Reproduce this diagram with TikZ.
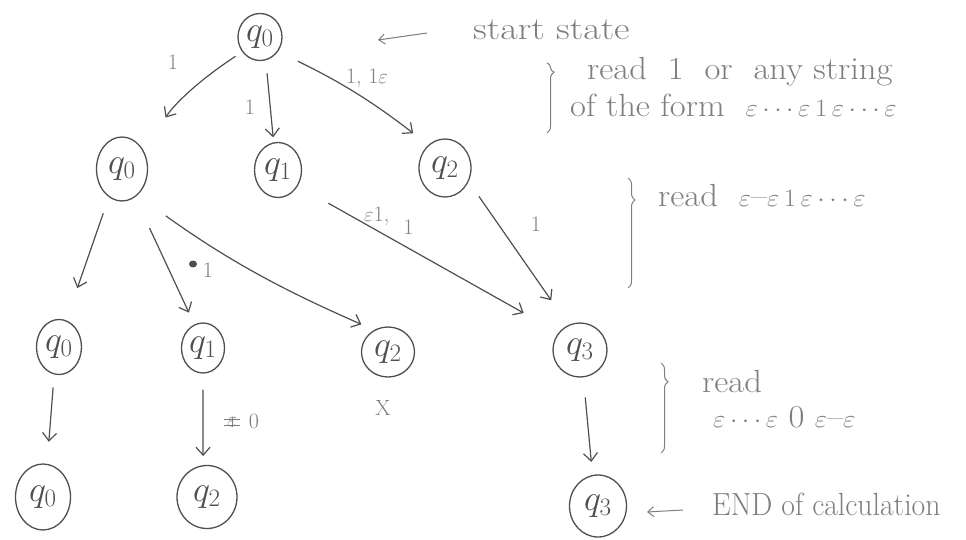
\documentclass[tikz,border=0pt]{standalone}
\usetikzlibrary{arrows.meta,shapes.geometric,decorations.pathreplacing}
\definecolor{ink}{HTML}{4F4F4F}
\definecolor{pencil}{HTML}{7E7E7E}
\newcommand{\qst}[1]{\scalebox{1.45}{$q_{#1}$}}
\tikzset{
  st/.style={draw=ink, line width=1.3pt, ellipse, inner sep=0pt, text=ink,
    font=\fontsize{24}{28}\selectfont},
  arr/.style={draw=ink, line width=1.2pt, -{Straight Barb[length=8pt,width=14pt]}},
  annarr/.style={draw=pencil, line width=1pt, -{Straight Barb[length=6pt,width=10pt]}},
  lbl/.style={text=pencil, font=\fontsize{22}{26}\selectfont, inner sep=0pt},
  note/.style={text=pencil, font=\fontsize{32}{36}\selectfont, inner sep=0pt, anchor=base west, xscale=1.08},
  brc/.style={draw=pencil, line width=1pt, decorate},
}
\begin{document}
\begin{tikzpicture}[x=1pt,y=-1pt]
\useasboundingbox (0,0) rectangle (966,540);
% states
\node[st, minimum width=44pt, minimum height=47pt] (A) at (260,37) {\qst{0}};
\node[st, minimum width=51pt, minimum height=64pt] (B) at (122,169) {\qst{0}};
\node[st, minimum width=47pt, minimum height=55pt] (C) at (278,170) {\qst{1}};
\node[st, minimum width=52pt, minimum height=58pt] (D) at (445,168) {\qst{2}};
\node[st, minimum width=45pt, minimum height=55pt] (E) at (59,347) {\qst{0}};
\node[st, minimum width=43pt, minimum height=50pt] (F) at (203,348) {\qst{1}};
\node[st, minimum width=53pt, minimum height=50pt] (G) at (388,352) {\qst{2}};
\node[st, minimum width=54pt, minimum height=54pt] (H) at (580,350) {\qst{3}};
\node[st, minimum width=55pt, minimum height=66pt] (I) at (43,497) {\qst{0}};
\node[st, minimum width=60pt, minimum height=63pt] (J) at (207,497) {\qst{2}};
\node[st, minimum width=57pt, minimum height=62pt] (K) at (598,506) {\qst{3}};
% transitions
\draw[arr, shorten <=8pt, shorten >=40pt] (A.220) to[bend right=12] (B.39);
\draw[arr, shorten <=13pt, shorten >=5pt] (A.284) -- (C.99);
\draw[arr, shorten <=22pt, shorten >=19pt] (A.321) to[bend left=6] (D.126);
\draw[arr, shorten <=17pt, shorten >=34pt] (B.245) -- (E.75);
\draw[arr, shorten <=34pt, shorten >=13pt] (B.295) -- (F.110);
\draw[arr, shorten <=35pt, shorten >=14pt] (B.300) to[bend right=6] (G.122);
\draw[arr, shorten <=35pt, shorten >=40pt] (C.321) -- (H.141);
\draw[arr, shorten <=18pt, shorten >=30pt] (D.330) -- (H.115);
\draw[arr, shorten <=13pt, shorten >=22pt] (E.260) -- (I.83);
\draw[arr, shorten <=16pt, shorten >=9pt] (F.270) -- (J.97);
\draw[arr, shorten <=20pt, shorten >=13pt] (H.277) -- (K.100);
% transition labels
\node[lbl] (l1) at (173,62) {1};
\node[lbl] (l2) at (250,107) {1};
\node[lbl] (l3) at (367,78) {1, 1$\varepsilon$};
\fill[ink] (193,264) ellipse (4pt and 3.5pt);
\node[lbl] (l4) at (208,270) {1};
\node[lbl, anchor=base west] (l5) at (364,222) {$\varepsilon$1,\hspace{14pt}\raisebox{-13pt}{1}};
\node[lbl] (l6) at (536,224) {1};
\node[lbl] (l7) at (232,422) {$\varepsilon$};
\draw[pencil, line width=0.9pt] ([xshift=-3pt,yshift=-3pt]l7.west) -- ([xshift=3pt,yshift=-3pt]l7.east);
\draw[pencil, line width=0.9pt] ([xshift=-3pt,yshift=3pt]l7.west) -- ([xshift=3pt,yshift=3pt]l7.east);
\draw[pencil, line width=0.9pt] (l7.north) -- (l7.south);
\node[lbl] (l8) at (254,421) {0};
\node[lbl] (x) at (383,408) {X};
% annotations
\node[note, xscale=1.1] (n1) at (473,40) {start state};
\coordinate (ssT) at (427,33);
\coordinate (ssH) at (378,40);
\draw[annarr] (ssT) -- (ssH);
\draw[brc, decoration={brace, amplitude=7pt, aspect=0.13}] (547,63) -- (547,133);
\node[note] (n2) at (587,80) {read \ 1 \ or \ any string};
\node[note] (n3) at (570,117) {of the form \ $\varepsilon\cdots\varepsilon\,1\,\varepsilon\cdots\varepsilon$};
\draw[brc, decoration={brace, amplitude=7pt, aspect=0.2}] (628,178) -- (628,288);
\node[note] (n4) at (658,207) {read \ $\varepsilon$--$\varepsilon\,1\,\varepsilon\cdots\varepsilon$};
\draw[brc, decoration={brace, amplitude=7pt, aspect=0.21}] (661,363) -- (661,453);
\node[note] (n5) at (702,392) {read};
\node[note] (n6) at (713,427) {$\varepsilon\cdots\varepsilon$ 0 $\varepsilon$--$\varepsilon$};
\node[note, xscale=0.86] (n7) at (712,515) {END of calculation};
\coordinate (enT) at (683,510);
\coordinate (enH) at (647,512);
\draw[annarr] (enT) -- (enH);
\end{tikzpicture}
\end{document}
